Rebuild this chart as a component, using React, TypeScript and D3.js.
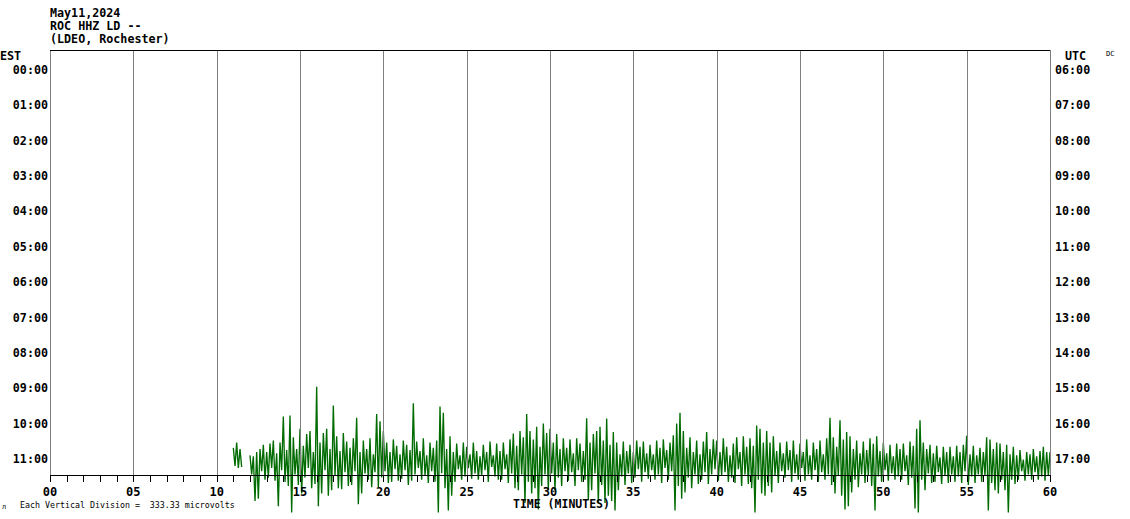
import React from "react";
import * as d3 from "d3";

const headerLines = ["May11,2024", "ROC HHZ LD --", "(LDEO, Rochester)"];
const estHours = ["00:00", "01:00", "02:00", "03:00", "04:00", "05:00", "06:00", "07:00", "08:00", "09:00", "10:00", "11:00"];
const utcHours = ["06:00", "07:00", "08:00", "09:00", "10:00", "11:00", "12:00", "13:00", "14:00", "15:00", "16:00", "17:00"];
const majorTickLabels = ["00", "05", "10", "15", "20", "25", "30", "35", "40", "45", "50", "55", "60"];
const minuteTicks = [0, 1, 2, 3, 4, 5, 6, 7, 8, 9, 10, 11, 12, 13, 14, 15, 16, 17, 18, 19, 20, 21, 22, 23, 24, 25, 26, 27, 28, 29, 30, 31, 32, 33, 34, 35, 36, 37, 38, 39, 40, 41, 42, 43, 44, 45, 46, 47, 48, 49, 50, 51, 52, 53, 54, 55, 56, 57, 58, 59, 60];
const microvoltsPerDivision = 333.33;
const traceRow = 11;
const sampleStepMin = 0.1;

// trace segment 1 (µV), starting at minute 11.0
const seg1Start = 11.0;
const seg1 = [100, -70, 150, -90, 90, -80];

// trace segment 2 (µV), starting at minute 12.0, one value every 0.1 min
const seg2Start = 12.0;
const seg2 = [
  30, -150, 20, -400, 60, -380, 90, -120, 130, -200,
  60, -180, 140, -90, 170, -210, 50, -450, 150, -110,
  395, -220, 80, -260, 405, -508, 200, -150, 90, -250,
  280, -330, 120, -180, 230, -90, 260, -280, 60, -240,
  677, -450, 150, -330, 240, -110, 280, -350, 90, -300,
  500, -160, 210, -280, 70, -290, 240, -130, 160, -260,
  100, -250, 190, -120, 385, -430, 60, -330, 170, -140,
  90, -200, 190, -270, 40, -130, 420, -270, 350, -180,
  260, -120, 150, -230, 60, -220, 180, -100, 120, -210,
  40, -190, 170, -110, 130, -250, 80, -210, 520, -150,
  160, -90, 70, -200, 190, -160, 30, -230, 150, -120,
  100, -220, 170, -508, 490, -140, 430, -280, 90, -490,
  210, -350, 60, -220, 140, -100, 30, -200, 150, -170,
  110, -90, 40, -190, 150, -140, 70, -200, 20, -160,
  130, -110, 60, -220, 160, -80, 30, -170, 140, -200,
  70, -200, 150, -100, 40, -230, 180, -140, 235, -280,
  120, -300, 260, -150, 200, -420, 420, -220, 260, -330,
  180, -280, 300, -480, 110, -260, 330, -150, 240, -300,
  280, -140, 150, -300, 230, -180, 90, -260, 190, -120,
  100, -210, 180, -130, 50, -260, 190, -110, 140, -220,
  70, -200, 380, -390, 150, -300, 230, -140, 260, -420,
  300, -250, 170, -420, 376, -350, 130, -400, 250, -490,
  150, -300, 40, -170, 160, -250, 70, -140, 130, -230,
  60, -180, 170, -100, 110, -220, 160, -130, 50, -190,
  130, -110, 40, -200, 170, -150, 100, -230, 180, -90,
  80, -200, 150, -120, 220, -490, 330, -260, 430, -380,
  260, -320, 100, -180, 200, -280, 60, -150, 170, -240,
  40, -200, 160, -130, 250, -240, 90, -150, 180, -100,
  170, -210, 60, -160, 190, -130, 110, -220, 30, -180,
  140, -230, 200, -100, 60, -260, 210, -150, 110, -240,
  190, -280, 120, -508, 310, -200, 280, -330, 150, -350,
  260, -260, 150, -320, 210, -160, 70, -230, 150, -120,
  50, -180, 160, -110, 80, -220, 170, -140, 40, -200,
  140, -90, 60, -210, 180, -150, 30, -200, 150, -110,
  90, -220, 170, -130, 40, -200, 190, -150, 385, -250,
  200, -330, 110, -160, 360, -350, 180, -480, 250, -450,
  210, -320, 90, -200, 170, -270, 50, -150, 160, -230,
  80, -160, 190, -260, 140, -490, 210, -170, 70, -220,
  150, -110, 50, -210, 130, -140, 20, -200, 140, -170,
  90, -200, 140, -120, 30, -250, 160, -180, 120, -470,
  280, -508, 360, -200, 150, -300, 90, -140, 130, -230,
  50, -220, 120, -130, 10, -240, 110, -160, 60, -230,
  110, -150, 20, -220, 120, -170, 60, -230, 130, -120,
  215, -250, 40, -170, 120, -230, 30, -150, 100, -220,
  60, -160, 200, -490, 180, -230, 90, -300, 150, -330,
  140, -200, 60, -300, 130, -508, 40, -200, 110, -240,
  30, -200, 80, -120, -10, -210, 60, -150, 40, -200,
  90, -130, 20, -200, 70, -170, 110, -210, 60, -160,
  60,
];

const W = 1130;
const H = 519;
const FONT = "'DejaVu Sans Mono', 'Liberation Mono', monospace";
const GREEN = "#006b00";
const GRID = "#808080";

export default function App() {
  const x = d3.scaleLinear().domain([0, 60]).range([50, 1050]);
  const rowY = d3.scaleLinear().domain([0, 11]).range([69.5, 458.5]);
  const rowSpacing = rowY(1) - rowY(0);
  const amp = d3
    .scaleLinear()
    .domain([0, microvoltsPerDivision])
    .range([rowY(traceRow), rowY(traceRow) - rowSpacing]);

  const line = d3
    .line<[number, number]>()
    .x((d) => x(d[0]))
    .y((d) => amp(d[1]));

  const toPts = (start: number, vals: number[]) =>
    vals.map((v, i) => [start + i * sampleStepMin, v] as [number, number]);

  const path1 = line(toPts(seg1Start, seg1)) || "";
  const path2 = line(toPts(seg2Start, seg2)) || "";

  const axisY = 475;
  const gridLines = majorTickLabels.map((_, i) => i * 5).filter((m) => m > 0);

  return (
    <svg
      width={W}
      height={H}
      style={{ position: "absolute", left: 0, top: 0, background: "#fff" }}
    >
      <rect x={0} y={0} width={W} height={H} fill="#fff" />
      {headerLines.map((t, i) => (
        <text key={t} x={50} y={17 + i * 13} fontFamily={FONT} fontWeight="bold" fontSize={11.7} fill="#000">
          {t}
        </text>
      ))}
      <text x={0} y={60} fontFamily={FONT} fontWeight="bold" fontSize={11.7} fill="#000">EST</text>
      <text x={1065} y={60} fontFamily={FONT} fontWeight="bold" fontSize={11.7} fill="#000">UTC</text>
      <text x={1106} y={56} fontFamily={FONT} fontSize={7} fill="#000" style={{ textRendering: "geometricPrecision" }}>DC</text>

      {/* trace */}
      <g fill="none" stroke={GREEN} strokeWidth={1.35} strokeLinejoin="miter" strokeMiterlimit={1}>
        <path d={path1} />
        <path d={path2} />
      </g>

      {/* frame & grid */}
      <g shapeRendering="crispEdges">
        <line x1={x(0) + 0.5} x2={x(0) + 0.5} y1={50} y2={axisY} stroke={GRID} />
        {gridLines.map((m) => (
          <line key={m} x1={Math.round(x(m)) + 0.5} x2={Math.round(x(m)) + 0.5} y1={50} y2={axisY} stroke={GRID} />
        ))}
        <line x1={x(0)} x2={x(60)} y1={50.5} y2={50.5} stroke="#000" />
        <line x1={x(0)} x2={x(60) + 1} y1={axisY + 0.5} y2={axisY + 0.5} stroke="#000" />
        {minuteTicks.map((m) => (
          <line key={m} x1={Math.round(x(m)) + 0.5} x2={Math.round(x(m)) + 0.5} y1={axisY} y2={axisY + 7} stroke="#000" />
        ))}
      </g>

      {estHours.map((t, i) => (
        <text key={t} x={48} y={rowY(i) + 4.5} textAnchor="end" fontFamily={FONT} fontWeight="bold" fontSize={11.7} fill="#000">
          {t}
        </text>
      ))}
      {utcHours.map((t, i) => (
        <text key={t} x={1055} y={rowY(i) + 4.5} fontFamily={FONT} fontWeight="bold" fontSize={11.7} fill="#000">
          {t}
        </text>
      ))}
      {majorTickLabels.map((t, i) => (
        <text key={t} x={x(i * 5)} y={495.5} textAnchor="middle" fontFamily={FONT} fontWeight="bold" fontSize={12} fill="#000">
          {t}
        </text>
      ))}
      <text x={513} y={508} fontFamily={FONT} fontWeight="bold" fontSize={11.5} fill="#000">TIME (MINUTES)</text>
      <text x={2} y={509} fontFamily={FONT} fontSize={7} fill="#000">л</text>
      <text x={20} y={507.5} fontFamily={FONT} fontSize={8.3} fill="#000" style={{ whiteSpace: "pre" }}>
        {"Each Vertical Division =  333.33 microvolts"}
      </text>
    </svg>
  );
}
